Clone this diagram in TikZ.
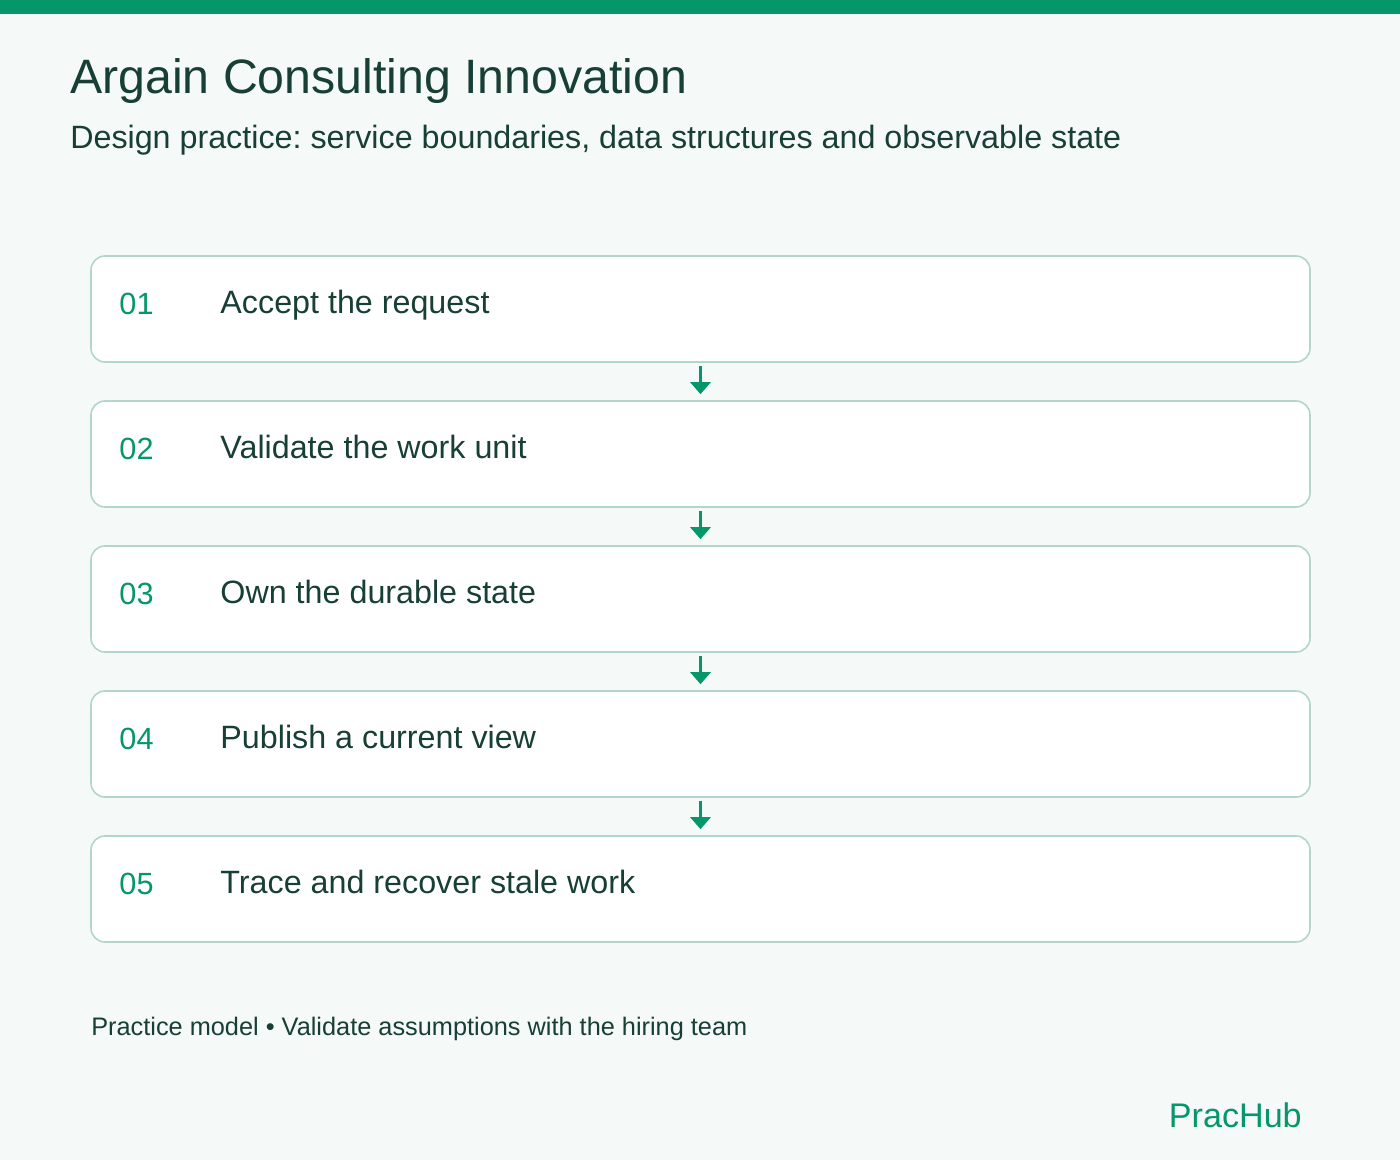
\documentclass[tikz,border=0pt]{standalone}
\usepackage{fontspec}
\setmainfont{Liberation Sans}
\usetikzlibrary{positioning, arrows.meta}
\definecolor{brand}{HTML}{059669}
\definecolor{ink}{HTML}{173F35}
\definecolor{edge}{HTML}{B3D6CA}
\definecolor{paper}{HTML}{F5F9F8}
\frenchspacing

\begin{document}
\begin{tikzpicture}[x=0.75pt,y=-0.75pt,>={Triangle[width=15pt,length=9pt]}]
    \tikzstyle{card}=[draw=edge,line width=1.2pt,fill=white,rounded corners=10.5pt,minimum width=914.25pt,minimum height=79.5pt,inner sep=0pt]
    \tikzstyle{num}=[text=brand,font=\fontsize{23}{28}\selectfont,anchor=base west,inner sep=0pt]
    \tikzstyle{lbl}=[text=ink,font=\fontsize{24.2}{29}\selectfont,anchor=base west,inner sep=0pt]
    \tikzstyle{flow}=[->,draw=brand,line width=2.25pt,shorten <=2.25pt,shorten >=4.5pt]

    % page and top band
    \fill[paper] (0,0) rectangle (1400,1160);
    \fill[brand] (0,0) rectangle (1400,14);
    \useasboundingbox (0,0) rectangle (1400,1160);

    \node[lbl,font=\fontsize{36.2}{43}\selectfont] (title) at (70,93) {Argain Consulting Innovation};
    \node[lbl] (subtitle) at (70,148) {Design practice: service boundaries, data structures and observable state};

    % the five steps
    \foreach \i/\txt in {1/Accept the request,2/Validate the work unit,3/Own the durable state,4/Publish a current view,5/Trace and recover stale work} {
        \node[card] (step\i) at (700.5,{309+145*(\i-1)}) {};
        \node[num] (num\i) at ([xshift=21.75pt,yshift=-3.75pt]step\i.west) {0\i};
        \node[lbl] (txt\i) at ([xshift=97.5pt,yshift=-3pt]step\i.west) {\txt};
    }
    \foreach \i [evaluate=\i as \j using int(\i+1)] in {1,...,4}
        \draw[flow] (step\i.south) -- (step\j.north);

    \node[lbl,font=\fontsize{19}{23}\selectfont] (note) at (91,1035) {Practice model • Validate assumptions with the hiring team};
    \node[num,anchor=base east,font=\fontsize{25.6}{31}\selectfont] (brandmark) at (1302,1127) {PracHub};
\end{tikzpicture}
\end{document}
